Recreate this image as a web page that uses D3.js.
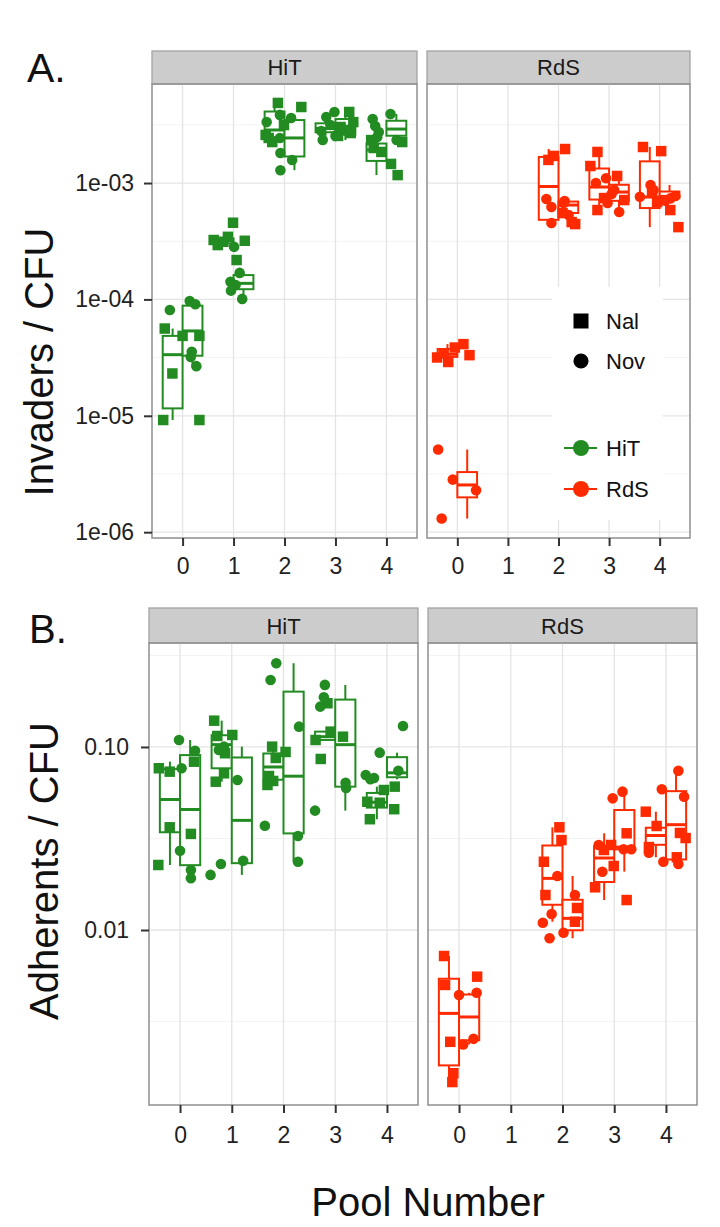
<!DOCTYPE html>
<html>
<head>
<meta charset="utf-8">
<script src="https://cdn.jsdelivr.net/npm/d3@7"></script>
<style>
  body { margin: 0; background: #fff; }
  svg { display: block; font-family: "Liberation Sans", Arial, Helvetica, sans-serif; }
</style>
</head>
<body>
<div id="chart"></div>
<script>
// x axis categories
const pools = [0, 1, 2, 3, 4];
const strains = ["HiT", "RdS"];
const markers = ["Nal", "Nov"];

// rows: [pool, marker, jittered pool position, ratio]
const invadersHiT = [
  [0, "Nal", -0.35, 5.62e-5], [0, "Nal", 0.00, 4.86e-5], [0, "Nal", 0.33, 4.86e-5],
  [0, "Nal", -0.20, 2.31e-5], [0, "Nal", -0.38, 9.2e-6], [0, "Nal", 0.33, 9.2e-6],
  [0, "Nov", -0.25, 8.1e-5], [0, "Nov", 0.14, 9.7e-5], [0, "Nov", 0.25, 9.1e-5],
  [0, "Nov", 0.18, 3.55e-5], [0, "Nov", 0.16, 3.2e-5], [0, "Nov", 0.27, 2.67e-5],
  [1, "Nal", 0.61, 3.24e-4], [1, "Nal", 0.69, 2.93e-4], [1, "Nal", 0.89, 3.45e-4],
  [1, "Nal", 0.99, 4.56e-4], [1, "Nal", 1.22, 3.19e-4], [1, "Nal", 1.06, 2.18e-4],
  [1, "Nal", 0.80, 3.13e-4],
  [1, "Nov", 1.01, 2.83e-4], [1, "Nov", 1.12, 1.69e-4], [1, "Nov", 0.94, 1.42e-4],
  [1, "Nov", 1.04, 1.33e-4], [1, "Nov", 0.95, 1.19e-4], [1, "Nov", 1.17, 1.01e-4],
  [2, "Nal", 1.87, 4.88e-3], [2, "Nal", 2.33, 4.50e-3], [2, "Nal", 1.99, 3.15e-3],
  [2, "Nal", 1.63, 2.59e-3], [2, "Nal", 1.69, 2.44e-3], [2, "Nal", 1.76, 2.25e-3],
  [2, "Nov", 1.91, 3.85e-3], [2, "Nov", 2.13, 3.62e-3], [2, "Nov", 1.65, 3.34e-3],
  [2, "Nov", 1.91, 2.44e-3], [2, "Nov", 1.92, 1.81e-3], [2, "Nov", 2.15, 1.58e-3],
  [2, "Nov", 1.92, 1.29e-3],
  [3, "Nal", 3.27, 4.08e-3], [3, "Nal", 3.35, 3.34e-3], [3, "Nal", 3.10, 3.03e-3],
  [3, "Nal", 3.20, 2.86e-3], [3, "Nal", 3.30, 2.69e-3], [3, "Nal", 3.05, 2.54e-3],
  [3, "Nov", 2.98, 4.08e-3], [3, "Nov", 2.82, 3.69e-3], [3, "Nov", 2.90, 3.15e-3],
  [3, "Nov", 2.72, 2.80e-3], [3, "Nov", 3.00, 2.54e-3], [3, "Nov", 2.75, 2.34e-3],
  [4, "Nal", 3.70, 2.34e-3], [4, "Nal", 4.31, 2.25e-3], [4, "Nal", 3.75, 2.00e-3],
  [4, "Nal", 3.90, 1.85e-3], [4, "Nal", 4.09, 1.46e-3], [4, "Nal", 4.22, 1.17e-3],
  [4, "Nov", 4.08, 3.92e-3], [4, "Nov", 3.73, 3.55e-3], [4, "Nov", 3.78, 3.09e-3],
  [4, "Nov", 3.85, 2.74e-3], [4, "Nov", 3.82, 2.49e-3], [4, "Nov", 4.20, 2.34e-3]
];

const invadersRdS = [
  [0, "Nal", -0.40, 3.17e-5], [0, "Nal", -0.18, 2.90e-5], [0, "Nal", -0.05, 3.86e-5],
  [0, "Nal", 0.12, 4.13e-5], [0, "Nal", 0.24, 3.32e-5], [0, "Nal", -0.27, 3.43e-5],
  [0, "Nov", -0.38, 5.13e-6], [0, "Nov", -0.09, 2.83e-6], [0, "Nov", 0.37, 2.29e-6],
  [0, "Nov", -0.31, 1.31e-6],
  [2, "Nal", 2.13, 1.96e-3], [2, "Nal", 1.91, 1.71e-3], [2, "Nal", 1.80, 1.58e-3],
  [2, "Nal", 2.08, 5.52e-4], [2, "Nal", 2.26, 4.62e-4], [2, "Nal", 2.33, 4.44e-4],
  [2, "Nov", 1.76, 7.29e-4], [2, "Nov", 2.12, 7.00e-4], [2, "Nov", 2.10, 6.73e-4],
  [2, "Nov", 1.86, 6.22e-4], [2, "Nov", 2.20, 5.31e-4], [2, "Nov", 1.86, 4.53e-4],
  [3, "Nal", 2.77, 1.85e-3], [3, "Nal", 2.63, 1.40e-3], [3, "Nal", 3.16, 1.15e-3],
  [3, "Nal", 2.90, 7.43e-4], [3, "Nal", 3.30, 7.14e-4], [3, "Nal", 2.77, 5.86e-4],
  [3, "Nov", 2.94, 1.10e-3], [3, "Nov", 2.74, 1.00e-3], [3, "Nov", 3.10, 8.71e-4],
  [3, "Nov", 3.05, 8.04e-4], [3, "Nov", 2.97, 6.73e-4], [3, "Nov", 3.20, 5.63e-4],
  [4, "Nal", 3.67, 2.04e-3], [4, "Nal", 4.03, 1.88e-3], [4, "Nal", 3.85, 8.37e-4],
  [4, "Nal", 3.95, 6.86e-4], [4, "Nal", 4.21, 5.86e-4], [4, "Nal", 4.37, 4.18e-4],
  [4, "Nov", 3.82, 9.61e-4], [4, "Nov", 3.88, 8.71e-4], [4, "Nov", 4.31, 7.73e-4],
  [4, "Nov", 3.61, 7.62e-4], [4, "Nov", 4.21, 7.38e-4], [4, "Nov", 4.11, 7.04e-4]
];

const adherentsHiT = [
  [0, "Nal", -0.41, 0.0765], [0, "Nal", -0.20, 0.0733], [0, "Nal", 0.27, 0.0831],
  [0, "Nal", -0.20, 0.0364], [0, "Nal", 0.21, 0.0335], [0, "Nal", -0.42, 0.02266],
  [0, "Nov", -0.02, 0.1092], [0, "Nov", 0.03, 0.0765], [0, "Nov", 0.29, 0.0954],
  [0, "Nov", 0.00, 0.0271], [0, "Nov", 0.21, 0.02128], [0, "Nov", 0.21, 0.01916],
  [1, "Nal", 0.66, 0.1392], [1, "Nal", 1.01, 0.1163], [1, "Nal", 0.72, 0.1148],
  [1, "Nal", 0.87, 0.0924], [1, "Nal", 0.85, 0.0718], [1, "Nal", 0.69, 0.0646],
  [1, "Nov", 0.85, 0.1004], [1, "Nov", 0.75, 0.0963], [1, "Nov", 1.11, 0.0660],
  [1, "Nov", 0.79, 0.02295], [1, "Nov", 0.59, 0.0200], [1, "Nov", 1.22, 0.0239],
  [2, "Nal", 1.78, 0.1004], [2, "Nal", 2.04, 0.0939], [2, "Nal", 1.85, 0.0871],
  [2, "Nal", 1.72, 0.0694], [2, "Nal", 1.80, 0.0652], [2, "Nal", 1.69, 0.0620],
  [2, "Nov", 1.86, 0.2867], [2, "Nov", 1.75, 0.2323], [2, "Nov", 2.30, 0.1291],
  [2, "Nov", 1.64, 0.03715], [2, "Nov", 2.28, 0.03264], [2, "Nov", 2.28, 0.0236],
  [3, "Nal", 2.85, 0.1733], [3, "Nal", 2.91, 0.1213], [3, "Nal", 3.15, 0.1138],
  [3, "Nal", 2.62, 0.1092], [3, "Nal", 2.72, 0.0860],
  [3, "Nov", 2.80, 0.2183], [3, "Nov", 2.78, 0.1869], [3, "Nov", 2.71, 0.1661],
  [3, "Nov", 3.20, 0.0638], [3, "Nov", 3.21, 0.0597], [3, "Nov", 2.61, 0.0449],
  [4, "Nal", 4.15, 0.0607], [4, "Nal", 3.94, 0.0582], [4, "Nal", 3.62, 0.0502],
  [4, "Nal", 3.86, 0.0496], [4, "Nal", 4.14, 0.0457], [4, "Nal", 3.67, 0.0403],
  [4, "Nov", 4.31, 0.1302], [4, "Nov", 3.86, 0.0931], [4, "Nov", 4.22, 0.0742],
  [4, "Nov", 3.59, 0.0703], [4, "Nov", 3.75, 0.0677], [4, "Nov", 3.68, 0.0666]
];

const adherentsRdS = [
  [0, "Nal", -0.29, 0.00721], [0, "Nal", -0.27, 0.00501], [0, "Nal", 0.35, 0.00556],
  [0, "Nal", -0.17, 0.00245], [0, "Nal", -0.11, 0.00165], [0, "Nal", -0.13, 0.001477],
  [0, "Nov", 0.00, 0.00441], [0, "Nov", 0.34, 0.00454], [0, "Nov", 0.08, 0.00237],
  [0, "Nov", 0.28, 0.002543],
  [2, "Nal", 1.94, 0.0364], [2, "Nal", 1.98, 0.0310], [2, "Nal", 1.64, 0.0236],
  [2, "Nal", 1.67, 0.01553], [2, "Nal", 2.28, 0.01319], [2, "Nal", 2.24, 0.0111],
  [2, "Nov", 1.90, 0.01973], [2, "Nov", 2.24, 0.01553], [2, "Nov", 1.79, 0.01223],
  [2, "Nov", 1.62, 0.01096], [2, "Nov", 2.02, 0.00966], [2, "Nov", 1.75, 0.00901],
  [3, "Nal", 3.24, 0.03376], [3, "Nal", 2.94, 0.02914], [3, "Nal", 2.80, 0.02736],
  [3, "Nal", 2.99, 0.02237], [3, "Nal", 2.63, 0.01711], [3, "Nal", 3.24, 0.01458],
  [3, "Nov", 3.16, 0.0570], [3, "Nov", 2.97, 0.0524], [3, "Nov", 2.70, 0.02914],
  [3, "Nov", 3.18, 0.0276], [3, "Nov", 3.33, 0.0276], [3, "Nov", 2.77, 0.02083],
  [4, "Nal", 3.61, 0.0443], [4, "Nal", 3.82, 0.0370], [4, "Nal", 4.27, 0.0339],
  [4, "Nal", 4.38, 0.0318], [4, "Nal", 3.67, 0.0284], [4, "Nal", 4.21, 0.02496],
  [4, "Nov", 4.24, 0.0742], [4, "Nov", 3.92, 0.0587], [4, "Nov", 4.35, 0.0535],
  [4, "Nov", 3.67, 0.02645], [4, "Nov", 3.95, 0.0236], [4, "Nov", 4.24, 0.02295]
];

const invaderTicks = [1e-6, 1e-5, 1e-4, 1e-3];
const invaderTickLabels = ["1e-06", "1e-05", "1e-04", "1e-03"];
const adherentTicks = [0.01, 0.1];
const adherentTickLabels = ["0.01", "0.10"];

const colors = { HiT: "#228b22", RdS: "#ff2a00" };
const font = '"Liberation Sans", Arial, Helvetica, sans-serif';

const svg = d3.select('#chart')
    .append('svg')
    .attr('width', 720)
    .attr('height', 1227);

svg.append('rect').attr('width', 720).attr('height', 1227).attr('fill', '#fff');

// box statistics on the log scale, as ggplot does
function boxStats(values) {
    const l = values.map(Math.log10).sort(d3.ascending);
    const q1 = d3.quantile(l, 0.25);
    const med = d3.quantile(l, 0.5);
    const q3 = d3.quantile(l, 0.75);
    const iqr = q3 - q1;
    const lo = d3.min(l.filter(v => v >= q1 - 1.5 * iqr));
    const hi = d3.max(l.filter(v => v <= q3 + 1.5 * iqr));
    return { lo: 10 ** lo, q1: 10 ** q1, med: 10 ** med, q3: 10 ** q3, hi: 10 ** hi };
}

function drawFacet(panel, col, strain, rows) {
    const [x0, x1] = panel.cols[col];
    const x = d3.scaleLinear().domain([-0.6, 4.6]).range([x0, x1]);
    const y = d3.scaleLog().domain(panel.yDomain).range([panel.bottom, panel.top]);
    const g = svg.append('g');
    const color = colors[strain];

    // strip
    g.append('rect')
        .attr('x', x0).attr('y', panel.stripTop)
        .attr('width', x1 - x0).attr('height', panel.top - panel.stripTop)
        .attr('fill', '#cccccc').attr('stroke', '#a3a3a3').attr('stroke-width', 1.3);
    g.append('text')
        .attr('x', (x0 + x1) / 2).attr('y', panel.stripBaseline)
        .attr('text-anchor', 'middle')
        .style('font-size', '22px').style('fill', '#1a1a1a')
        .text(strain);

    // grid lines
    const minor = d3.range(Math.floor(Math.log10(panel.yDomain[0])), 1)
        .map(e => 10 ** (e + 0.5))
        .filter(v => v > panel.yDomain[0] && v < panel.yDomain[1]);
    g.selectAll('.minor').data(minor).join('line')
        .attr('x1', x0).attr('x2', x1)
        .attr('y1', d => y(d)).attr('y2', d => y(d))
        .attr('stroke', '#f3f3f3').attr('stroke-width', 1);
    g.selectAll('.major-y').data(panel.ticks).join('line')
        .attr('x1', x0).attr('x2', x1)
        .attr('y1', d => y(d)).attr('y2', d => y(d))
        .attr('stroke', '#e4e4e4').attr('stroke-width', 1.3);
    g.selectAll('.major-x').data(pools).join('line')
        .attr('x1', d => x(d)).attr('x2', d => x(d))
        .attr('y1', panel.top).attr('y2', panel.bottom)
        .attr('stroke', '#e4e4e4').attr('stroke-width', 1.3);

    // boxes: Nal dodged left, Nov dodged right
    const boxW = 0.39;
    const groups = d3.flatGroup(rows, r => r[0], r => r[1]);
    groups.forEach(([pool, marker, grp]) => {
        const s = boxStats(grp.map(r => r[3]));
        const left = marker === 'Nal' ? pool - boxW : pool;
        const mid = left + boxW / 2;
        const bg = g.append('g').attr('stroke', color).attr('fill', 'none');
        bg.append('line').attr('x1', x(mid)).attr('x2', x(mid))
            .attr('y1', y(s.hi)).attr('y2', y(s.q3)).attr('stroke-width', 2);
        bg.append('line').attr('x1', x(mid)).attr('x2', x(mid))
            .attr('y1', y(s.q1)).attr('y2', y(s.lo)).attr('stroke-width', 2);
        bg.append('rect')
            .attr('x', x(left)).attr('width', x(left + boxW) - x(left))
            .attr('y', y(s.q3)).attr('height', y(s.q1) - y(s.q3))
            .attr('fill', '#fff').attr('stroke-width', 2);
        bg.append('line').attr('x1', x(left)).attr('x2', x(left + boxW))
            .attr('y1', y(s.med)).attr('y2', y(s.med)).attr('stroke-width', 3);
    });

    // jittered points
    const shape = { Nal: d3.symbolSquare, Nov: d3.symbolCircle };
    const area = { Nal: 110, Nov: 88 };
    g.selectAll('.pt').data(rows).join('path')
        .attr('transform', d => `translate(${x(d[2])},${y(d[3])})`)
        .attr('d', d => d3.symbol(shape[d[1]], area[d[1]])())
        .attr('fill', color);

    // panel border
    g.append('rect')
        .attr('x', x0).attr('y', panel.top)
        .attr('width', x1 - x0).attr('height', panel.bottom - panel.top)
        .attr('fill', 'none').attr('stroke', '#8f8f8f').attr('stroke-width', 1.5);

    // x axis
    const xAxis = g.append('g')
        .attr('transform', `translate(0,${panel.bottom})`)
        .call(d3.axisBottom(x).tickValues(pools).tickFormat(d3.format('d'))
            .tickSize(8).tickPadding(panel.xPad));
    styleAxis(xAxis);

    if (col === 0) {
        const yAxis = g.append('g')
            .attr('transform', `translate(${x0},0)`)
            .call(d3.axisLeft(y).tickValues(panel.ticks)
                .tickFormat((d, i) => panel.tickLabels[i])
                .tickSize(8).tickPadding(panel.yPad));
        styleAxis(yAxis);
    }
}

function styleAxis(a) {
    a.select('.domain').remove();
    a.selectAll('.tick line').attr('stroke', '#333').attr('stroke-width', 2);
    a.selectAll('.tick text')
        .style('font-family', font).style('font-size', '23px').style('fill', '#222');
}

const panelA = {
    stripTop: 51, top: 84, bottom: 538, stripBaseline: 75,
    cols: [[152, 417], [427, 690]],
    yDomain: [10 ** -6.05, 10 ** -2.149],
    ticks: invaderTicks, tickLabels: invaderTickLabels,
    xPad: 12, yPad: 10
};
const panelB = {
    stripTop: 608, top: 643, bottom: 1105, stripBaseline: 634,
    cols: [[149, 418], [428, 697]],
    yDomain: [10 ** -2.956, 10 ** -0.432],
    ticks: adherentTicks, tickLabels: adherentTickLabels,
    xPad: 14, yPad: 12
};

drawFacet(panelA, 0, 'HiT', invadersHiT);
drawFacet(panelA, 1, 'RdS', invadersRdS);
drawFacet(panelB, 0, 'HiT', adherentsHiT);
drawFacet(panelB, 1, 'RdS', adherentsRdS);

// legend inside panel A, RdS facet
const legend = svg.append('g');
legend.append('rect')
    .attr('x', 552).attr('y', 287).attr('width', 111).attr('height', 233)
    .attr('fill', '#fff');
const markerKeys = legend.selectAll('.mk').data(markers).join('g')
    .attr('transform', (d, i) => `translate(581,${321 + i * 40})`);
markerKeys.append('path')
    .attr('d', d => d3.symbol(d === 'Nal' ? d3.symbolSquare : d3.symbolCircle, d === 'Nal' ? 225 : 180)())
    .attr('fill', '#000');
markerKeys.append('text')
    .attr('x', 25).attr('y', 8)
    .style('font-size', '22px').style('fill', '#111')
    .text(d => d);
const strainKeys = legend.selectAll('.sk').data(strains).join('g')
    .attr('transform', (d, i) => `translate(581,${448 + i * 41})`);
strainKeys.append('line')
    .attr('x1', -17).attr('x2', 16)
    .attr('stroke', d => colors[d]).attr('stroke-width', 2);
strainKeys.append('circle')
    .attr('r', 8).attr('fill', d => colors[d]);
strainKeys.append('text')
    .attr('x', 25).attr('y', 8)
    .style('font-size', '22px').style('fill', '#111')
    .text(d => d);

// titles and panel letters
svg.append('text')
    .attr('transform', 'translate(53,362) rotate(-90)')
    .attr('text-anchor', 'middle')
    .style('font-size', '40px').style('fill', '#111')
    .text('Invaders / CFU');
svg.append('text')
    .attr('transform', 'translate(58,871) rotate(-90)')
    .attr('text-anchor', 'middle')
    .style('font-size', '40px').style('fill', '#111')
    .text('Adherents / CFU');
svg.append('text')
    .attr('x', 428).attr('y', 1216)
    .attr('text-anchor', 'middle')
    .style('font-size', '40px').style('fill', '#111')
    .text('Pool Number');
svg.append('text')
    .attr('x', 27).attr('y', 82)
    .style('font-size', '41px').style('fill', '#111')
    .text('A.');
svg.append('text')
    .attr('x', 29).attr('y', 643)
    .style('font-size', '40px').style('fill', '#111')
    .text('B.');
</script>
</body>
</html>
